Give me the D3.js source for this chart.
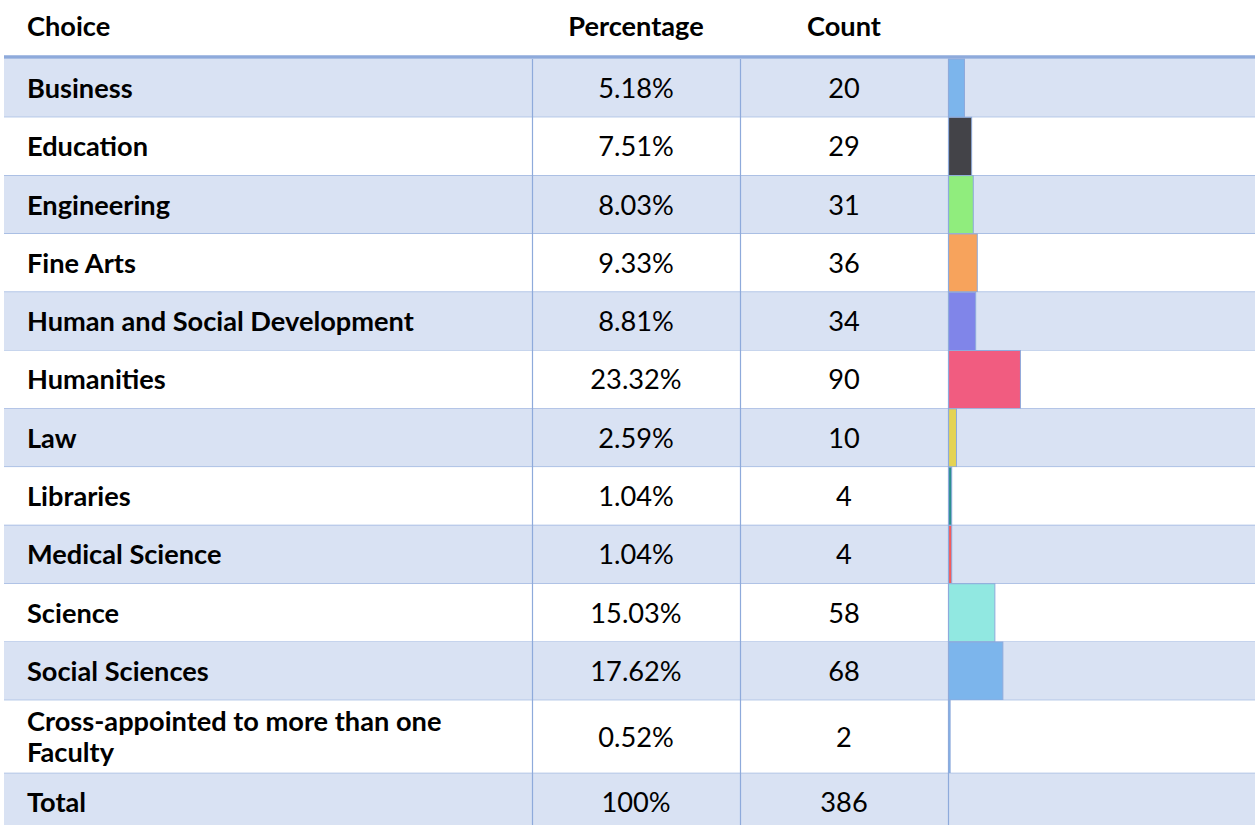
<!DOCTYPE html>
<html>
<head>
<meta charset="utf-8">
<script src="https://cdn.jsdelivr.net/npm/d3@7"></script>
<style>
  body { margin: 0; background: #fff; }
  text { font-family: Lato, "Open Sans", sans-serif; fill: #000; }
</style>
</head>
<body>
<script>
const choices = ['Business', 'Education', 'Engineering', 'Fine Arts', 'Human and Social Development',
  'Humanities', 'Law', 'Libraries', 'Medical Science', 'Science', 'Social Sciences',
  'Cross-appointed to more than one|Faculty']
const percentages = [5.18, 7.51, 8.03, 9.33, 8.81, 23.32, 2.59, 1.04, 1.04, 15.03, 17.62, 0.52]
const counts = [20, 29, 31, 36, 34, 90, 10, 4, 4, 58, 68, 2]
const percentLabels = ['5.18%', '7.51%', '8.03%', '9.33%', '8.81%', '23.32%', '2.59%', '1.04%', '1.04%', '15.03%', '17.62%', '0.52%']
const totalLabel = ['Total', '100%', '386']
const headers = ['Choice', 'Percentage', 'Count']
const colors = ['#7cb5ec', '#434348', '#90ed7d', '#f7a35c', '#8085e9', '#f15c80', '#e4d354', '#2b908f', '#f45b5b', '#91e8e1', '#7cb5ec', '#7cb5ec']

const width = 1255, height = 825
const grid = '#8eaadb', band = '#d9e2f3'
const left = 4, col1 = 532.5, col2 = 740.5, col3 = 948.5
const headTop = 57, rowH = 58.3, wrapH = 73
const fs = 27.2

const svg = d3.select('body').append('svg')
  .attr('width', width)
  .attr('height', height)

// rows with heights, plus the total row at the end
let rows = choices.map((c, i) => ({
  label: c.split('|'), pct: percentages[i], pctLabel: percentLabels[i],
  count: counts[i], color: colors[i]
}))
rows.push({label: [totalLabel[0]], pctLabel: totalLabel[1], count: totalLabel[2], pct: null})
let y0 = headTop + 2
rows.forEach(r => {
  r.h = r.label.length > 1 ? wrapH : rowH
  r.y = y0
  y0 += r.h
})

const x = d3.scaleLinear()
  .domain([0, 100])
  .range([col3, width + 2])

const row = svg.append('g')
  .selectAll('g')
  .data(rows)
  .join('g')
  .attr('transform', d => `translate(0,${d.y})`)

row.append('rect')
  .attr('x', left)
  .attr('width', width - left)
  .attr('height', d => d.h)
  .attr('fill', (d, i) => i % 2 == 0 ? band : '#fff')

// bars
row.filter(d => d.pct != null)
  .append('rect')
  .attr('x', col3)
  .attr('width', d => x(d.pct) - col3)
  .attr('height', d => d.h)
  .attr('fill', d => d.color)
  .attr('stroke', grid)
  .attr('stroke-width', 1)

// grid lines
row.append('line')
  .attr('x1', left).attr('x2', width)
  .attr('y1', d => d.h).attr('y2', d => d.h)
  .attr('stroke', grid)
  .attr('stroke-width', 1.2)

;[col1, col2, col3].forEach(cx => {
  svg.append('line')
    .attr('x1', cx).attr('x2', cx)
    .attr('y1', headTop + 2).attr('y2', height)
    .attr('stroke', grid)
    .attr('stroke-width', 1.2)
})

svg.append('line')
  .attr('x1', left).attr('x2', width)
  .attr('y1', headTop).attr('y2', headTop)
  .attr('stroke', grid)
  .attr('stroke-width', 3.5)

// labels
row.append('text')
  .attr('x', 27)
  .attr('font-weight', 'bold')
  .attr('font-size', fs)
  .selectAll('tspan')
  .data(d => d.label.map((t, i) => ({t, i, n: d.label.length, h: d.h})))
  .join('tspan')
  .attr('x', 27)
  .attr('y', d => d.h / 2 + (d.i - (d.n - 1) / 2) * 31.7)
  .attr('dy', '0.36em')
  .text(d => d.t)

row.append('text')
  .attr('x', 636)
  .attr('y', d => d.h / 2)
  .attr('dy', '0.36em')
  .attr('text-anchor', 'middle')
  .attr('font-size', fs)
  .text(d => d.pctLabel)

row.append('text')
  .attr('x', 844)
  .attr('y', d => d.h / 2)
  .attr('dy', '0.36em')
  .attr('text-anchor', 'middle')
  .attr('font-size', fs)
  .text(d => d.count)

// header
svg.append('g')
  .selectAll('text')
  .data(headers)
  .join('text')
  .attr('x', (d, i) => [27, 636, 844][i])
  .attr('y', 36)
  .attr('text-anchor', (d, i) => i == 0 ? 'start' : 'middle')
  .attr('font-weight', 'bold')
  .attr('font-size', fs)
  .text(d => d)
</script>
</body>
</html>
